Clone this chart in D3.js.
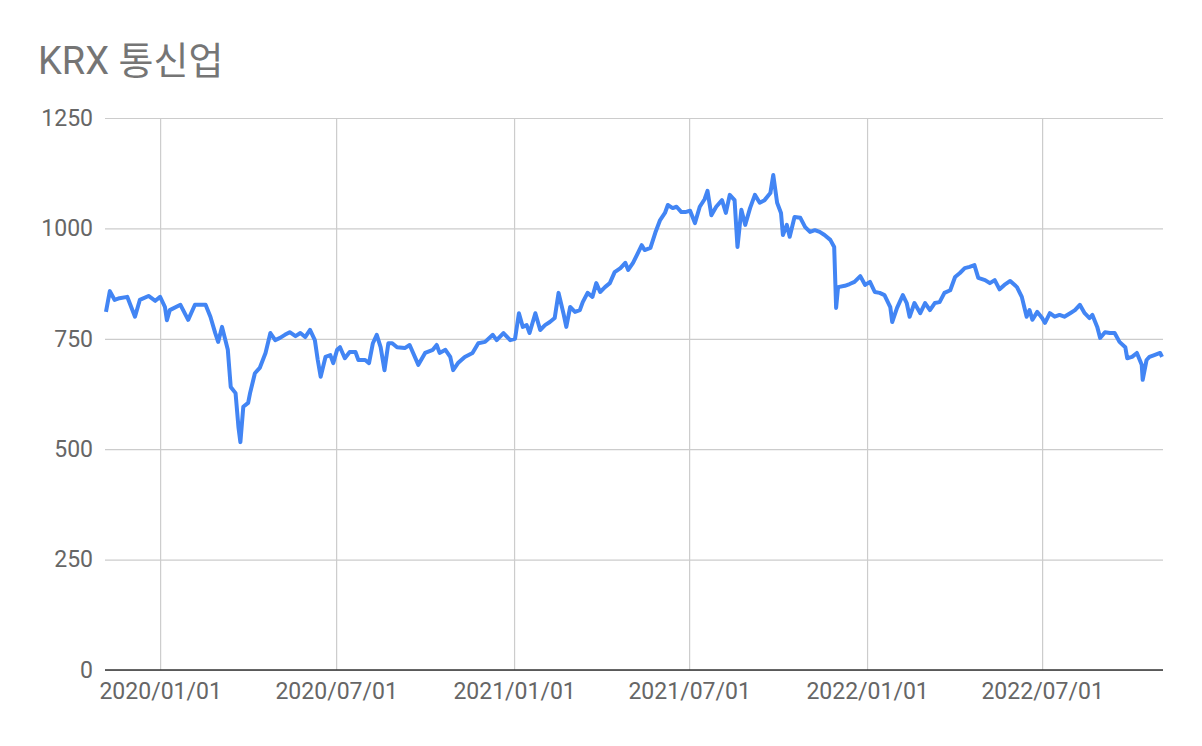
<!DOCTYPE html>
<html>
<head>
<meta charset="utf-8">
<script src="https://cdn.jsdelivr.net/npm/d3@7"></script>
<style>
  body { margin: 0; background: #fff; }
  svg { display: block; }
</style>
</head>
<body>
<svg id="chart"></svg>
<script>
// chart data
const title = "KRX 통신업";
const dates = [
  "2019-11-06","2019-11-10","2019-11-15","2019-11-20","2019-11-28","2019-12-06","2019-12-11","2019-12-20","2019-12-27",
  "2020-01-01","2020-01-06","2020-01-08","2020-01-11","2020-01-22","2020-01-30","2020-02-06","2020-02-17","2020-02-22",
  "2020-02-27","2020-03-01","2020-03-05","2020-03-11","2020-03-14","2020-03-19","2020-03-22","2020-03-24","2020-03-27",
  "2020-04-01","2020-04-03","2020-04-08","2020-04-13","2020-04-19","2020-04-24","2020-04-29","2020-05-04","2020-05-09",
  "2020-05-14","2020-05-20","2020-05-25","2020-05-30","2020-06-04","2020-06-09","2020-06-12","2020-06-15","2020-06-20",
  "2020-06-25","2020-06-28","2020-07-02","2020-07-05","2020-07-10","2020-07-15","2020-07-21","2020-07-24","2020-07-31",
  "2020-08-04","2020-08-08","2020-08-12","2020-08-16","2020-08-20","2020-08-24","2020-08-28","2020-09-02","2020-09-10",
  "2020-09-15","2020-09-24","2020-10-01","2020-10-09","2020-10-13","2020-10-16","2020-10-22","2020-10-27","2020-10-30",
  "2020-11-04","2020-11-11","2020-11-19","2020-11-25","2020-12-02","2020-12-10","2020-12-14","2020-12-21","2020-12-28",
  "2021-01-02","2021-01-06","2021-01-10","2021-01-14","2021-01-17","2021-01-23","2021-01-28","2021-02-02","2021-02-07",
  "2021-02-12","2021-02-16","2021-02-21","2021-02-24","2021-02-28","2021-03-05","2021-03-10","2021-03-13","2021-03-18",
  "2021-03-23","2021-03-27","2021-03-31","2021-04-05","2021-04-10","2021-04-15","2021-04-21","2021-04-26","2021-04-29",
  "2021-05-04","2021-05-09","2021-05-13","2021-05-16","2021-05-22","2021-05-27","2021-06-01","2021-06-06","2021-06-09",
  "2021-06-14","2021-06-18","2021-06-23","2021-06-27","2021-07-02","2021-07-07","2021-07-12","2021-07-17","2021-07-20",
  "2021-07-24","2021-07-29","2021-08-04","2021-08-08","2021-08-12","2021-08-17","2021-08-20","2021-08-24","2021-08-28",
  "2021-09-02","2021-09-07","2021-09-12","2021-09-17","2021-09-23","2021-09-26","2021-09-30","2021-10-04","2021-10-06",
  "2021-10-10","2021-10-13","2021-10-18","2021-10-24","2021-10-29","2021-11-03","2021-11-08","2021-11-13","2021-11-18",
  "2021-11-24","2021-11-28","2021-11-30","2021-12-02","2021-12-09","2021-12-14","2021-12-19","2021-12-25","2021-12-30",
  "2022-01-04","2022-01-09","2022-01-14","2022-01-19","2022-01-25","2022-01-27","2022-02-01","2022-02-07","2022-02-11",
  "2022-02-14","2022-02-19","2022-02-25","2022-03-02","2022-03-07","2022-03-12","2022-03-17","2022-03-22","2022-03-28",
  "2022-04-02","2022-04-07","2022-04-12","2022-04-17","2022-04-22","2022-04-26","2022-05-03","2022-05-08","2022-05-13",
  "2022-05-18","2022-05-23","2022-05-29","2022-06-05","2022-06-10","2022-06-15","2022-06-18","2022-06-21","2022-06-26",
  "2022-07-01","2022-07-04","2022-07-09","2022-07-14","2022-07-19","2022-07-24","2022-07-30","2022-08-04","2022-08-09",
  "2022-08-14","2022-08-19","2022-08-22","2022-08-27","2022-08-30","2022-09-04","2022-09-09","2022-09-14","2022-09-19",
  "2022-09-25","2022-09-27","2022-10-02","2022-10-07","2022-10-12","2022-10-13","2022-10-17","2022-10-20","2022-10-25",
  "2022-10-31","2022-11-02"
];
const values = [
  811,858,838,842,845,800,838,847,836,
  845,822,792,815,827,793,827,827,800,
  763,743,777,725,641,627,550,516,596,
  605,627,672,684,718,763,747,752,759,
  765,756,763,754,770,747,702,664,709,
  713,695,725,731,706,720,720,702,702,
  695,740,759,731,679,740,740,731,729,
  736,691,718,725,736,718,725,709,679,
  695,709,718,740,743,759,747,763,747,
  750,808,777,781,763,808,770,781,788,
  797,854,808,777,822,811,815,833,854,
  845,876,856,867,876,901,910,922,906,
  922,944,962,951,956,990,1019,1035,1053,
  1046,1049,1037,1037,1040,1012,1049,1066,1085,
  1030,1049,1064,1035,1076,1064,958,1042,1008,
  1046,1076,1058,1064,1080,1121,1058,1035,985,
  1008,981,1026,1024,1003,992,996,992,985,
  974,958,820,867,870,874,879,892,872,
  879,856,854,849,822,788,820,849,831,
  800,831,808,831,815,831,833,854,860,
  890,899,910,913,917,888,883,876,883,
  862,872,881,867,845,800,815,793,811,
  797,786,808,800,804,800,808,815,827,
  808,797,804,777,752,765,763,763,743,
  731,706,709,718,691,657,702,709,713,
  718,709
];
const yTicks = [0, 250, 500, 750, 1000, 1250];
const xTicks = ["2020-01-01","2020-07-01","2021-01-01","2021-07-01","2022-01-01","2022-07-01"];
const xDomain = ["2019-11-05", "2022-11-03"];

const width = 1202, height = 746;
const margin = { top: 118, right: 39, bottom: 76, left: 105 };
const innerW = width - margin.left - margin.right;
const innerH = height - margin.top - margin.bottom;

const parse = d3.timeParse("%Y-%m-%d");
const fmt = d3.timeFormat("%Y/%m/%d");
const data = dates.map((d, i) => ({ date: parse(d), value: values[i] }));

const svg = d3.select("#chart").attr("width", width).attr("height", height);
const fontStack = "Roboto, 'Noto Sans CJK KR', sans-serif";

svg.append("text")
  .attr("x", 38)
  .attr("y", 74)
  .attr("font-family", fontStack)
  .attr("font-size", 38)
  .attr("fill", "#757575")
  .text(title);

const g = svg.append("g")
  .attr("transform", "translate(" + margin.left + "," + margin.top + ")");

const x = d3.scaleTime().domain(xDomain.map(parse)).range([0, innerW]);
const y = d3.scaleLinear().domain([0, 1250]).range([innerH, 0]);

// horizontal grid + y labels
const yAxis = g.append("g")
  .call(d3.axisLeft(y).tickValues(yTicks).tickFormat(d3.format("d")).tickSize(-innerW).tickPadding(12));
yAxis.select(".domain").remove();
yAxis.selectAll(".tick line").attr("stroke", "#cccccc").attr("stroke-width", 1.2);
yAxis.selectAll(".tick text")
  .attr("font-family", fontStack)
  .attr("font-size", 23)
  .attr("fill", "#666");

// vertical grid + x labels
const xAxis = g.append("g")
  .attr("transform", "translate(0," + innerH + ")")
  .call(d3.axisBottom(x).tickValues(xTicks.map(parse)).tickFormat(fmt).tickSize(-innerH).tickPadding(13));
xAxis.select(".domain").remove();
xAxis.selectAll(".tick line").attr("stroke", "#cccccc").attr("stroke-width", 1.2);
xAxis.selectAll(".tick text")
  .attr("font-family", fontStack)
  .attr("font-size", 23)
  .attr("fill", "#666");

// baseline at zero
g.append("line")
  .attr("x1", 0).attr("x2", innerW)
  .attr("y1", y(0)).attr("y2", y(0))
  .attr("stroke", "#333")
  .attr("stroke-width", 1.6);

const line = d3.line()
  .x(d => x(d.date))
  .y(d => y(d.value));

g.append("path")
  .datum(data)
  .attr("fill", "none")
  .attr("stroke", "#4285f4")
  .attr("stroke-width", 4)
  .attr("stroke-linejoin", "round")
  .attr("d", line);
</script>
</body>
</html>
